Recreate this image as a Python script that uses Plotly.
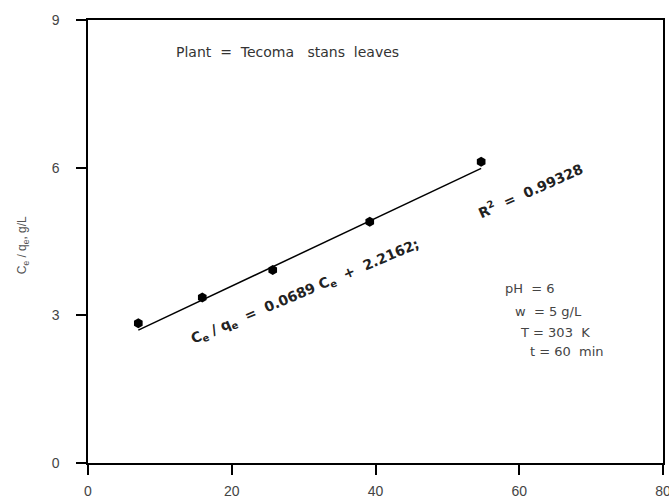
import plotly.graph_objects as go

# Data
ce = [7.0, 15.9, 25.7, 39.2, 54.7]          # Ce (mg/L)
ce_qe = [2.84, 3.36, 3.92, 4.90, 6.12]      # Ce/qe (g/L)
slope = 0.0689
intercept = 2.2162
r2 = 0.99328
x_ticks = [0, 20, 40, 60, 80]
y_ticks = [0, 3, 6, 9]
conditions = ["pH  = 6", "w  = 5 g/L", "T = 303  K", "t = 60  min"]
cond_x = [57.7, 59.1, 59.8, 61.2]
cond_y = [3.54, 3.07, 2.66, 2.26]

fit_x = [ce[0], ce[-1]]
fit_y = [slope * v + intercept for v in fit_x]

fig = go.Figure()
fig.add_trace(go.Scatter(x=fit_x, y=fit_y, mode="lines",
                         line=dict(color="black", width=1.5, dash="solid"),
                         showlegend=False, hoverinfo="skip"))
fig.add_trace(go.Scatter(x=ce, y=ce_qe, mode="markers",
                         marker=dict(symbol="hexagon", size=10, color="black"),
                         showlegend=False))

font_main = "Liberation Sans, Arial, sans-serif"
font_wide = "DejaVu Sans, sans-serif"
tick_color = "#444"

fig.update_layout(
    width=669, height=498,
    margin=dict(l=88, r=6, t=20, b=35),
    paper_bgcolor="white", plot_bgcolor="white",
    font=dict(family=font_main, size=12, color=tick_color),
    xaxis=dict(range=[0, 80], tickvals=x_ticks, showgrid=False, zeroline=False,
               showline=True, linecolor="black", linewidth=1.5, mirror=True,
               ticks="outside", ticklen=10, tickwidth=1.5, tickcolor="black",
               ticklabelstandoff=4, automargin=False, ticklabeloverflow="allow",
               tickfont=dict(size=14, color=tick_color)),
    yaxis=dict(range=[0, 9], tickvals=y_ticks, showgrid=False, zeroline=False,
               showline=True, linecolor="black", linewidth=1.5, mirror=True,
               ticks="outside", ticklen=10, tickwidth=1.5, tickcolor="black",
               ticklabelstandoff=14, automargin=False, ticklabeloverflow="allow",
               tickfont=dict(size=14, color=tick_color)),
)

ann = []
ann.append(dict(x=0.347, y=0.95, xref="paper", yref="paper",
                text="Plant  =  Tecoma   stans  leaves", showarrow=False,
                font=dict(size=14, color="#333", family=font_wide)))
ann.append(dict(x=-0.13, y=0.492, xref="paper", yref="paper", showarrow=False,
                text="C<sub>e</sub> / q<sub>e</sub>, g/L", textangle=-90,
                font=dict(size=12, color="#555")))
ann.append(dict(x=30.2, y=3.48, xref="x", yref="y", showarrow=False,
                text=f"C<sub>e</sub> / q<sub>e</sub>  =  {slope} C<sub>e</sub>  +  {intercept};",
                textangle=-23,
                font=dict(size=14, color="#222", family=font_wide, weight="bold")))
ann.append(dict(x=61.6, y=5.55, xref="x", yref="y", showarrow=False,
                text=f"R<sup>2</sup>  =  {r2}", textangle=-24,
                font=dict(size=14, color="#222", family=font_wide, weight="bold")))
for t, xx, yy in zip(conditions, cond_x, cond_y):
    ann.append(dict(x=xx, y=yy, xref="x", yref="y", showarrow=False,
                    xanchor="left", text=t,
                    font=dict(size=13, color="#444", family=font_wide)))
fig.update_layout(annotations=ann)

fig.write_html("out.html", config={"displayModeBar": False},
               post_script="document.body.style.margin='0';document.body.style.overflow='hidden';")
